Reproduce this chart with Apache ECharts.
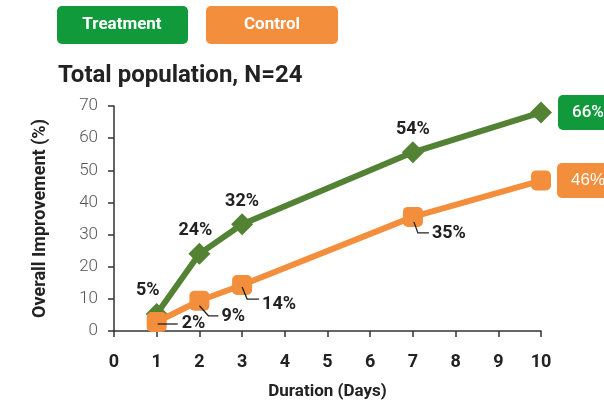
<!DOCTYPE html>
<html>
<head>
<meta charset="utf-8">
<script src="https://cdn.jsdelivr.net/npm/echarts@6/dist/echarts.min.js"></script>
<style>
  html, body { margin: 0; padding: 0; background: #fff; }
  #main { width: 604px; height: 403px; }
</style>
</head>
<body>
<div id="main"></div>
<script>
// data
var days = [1, 2, 3, 7, 10];
var treatment = [5.3, 24, 33.2, 55.6, 68];
var control = [2.8, 9.4, 14.3, 35.5, 46.8];
var treatmentLabels = ['5%', '24%', '32%', '54%', '66%'];
var controlLabels = ['2%', '9%', '14%', '35%', '46%'];

var green = '#548235';
var greenBox = '#109a3b';
var orange = '#f28e3c';
var font = 'Roboto';

// leader lines for control labels, offsets from the point
var leaderPts = [
    [[1, 2], [21, 2]],
    [[0, 5], [9, 15], [19, 15]],
    [[0, 2], [5, 14], [17, 14]],
    [[1, 5], [5, 16], [16, 16]]
];
var leaderText = [[25, 1], [22, 16], [20, 19], [19, 17]];

var chart = echarts.init(document.getElementById('main'));

var endLabel = function (bg) {
    return {
        position: 'right', distance: 6, color: '#fff', fontWeight: 500, fontSize: 17,
        backgroundColor: bg, borderRadius: 5, padding: [9, 14, 9, 14]
    };
};

var tData = days.map(function (d, i) {
    var item = { value: [d, treatment[i]] };
    if (i === 0) item.label = { offset: [-9, 0] };
    if (i === 1) item.label = { offset: [-4, 0] };
    if (i === days.length - 1) item.label = endLabel(greenBox);
    return item;
});

var cData = days.map(function (d, i) {
    var item = { value: [d, control[i]], label: { show: false } };
    if (i === days.length - 1) {
        item.label = endLabel(orange);
        item.label.show = true;
    }
    return item;
});

var leaderData = days.slice(0, 4).map(function (d, i) {
    return [d, control[i]];
});

option = {
    animation: false,
    title: {
        text: 'Total population, N=24',
        left: 53,
        top: 59,
        textStyle: { fontFamily: font, fontSize: 24, fontWeight: 'bold', color: '#222' }
    },
    graphic: [
        { type: 'rect', left: 57, top: 6, shape: { width: 131, height: 38, r: 5 }, style: { fill: greenBox } },
        { type: 'text', x: 122, y: 25, style: { text: 'Treatment', fill: '#fff', font: 'bold 17px ' + font, textAlign: 'center', textVerticalAlign: 'middle' } },
        { type: 'rect', left: 206, top: 6, shape: { width: 132, height: 38, r: 5 }, style: { fill: orange } },
        { type: 'text', x: 272, y: 25, style: { text: 'Control', fill: '#fff', font: 'bold 17px ' + font, textAlign: 'center', textVerticalAlign: 'middle' } }
    ],
    grid: { left: 114, right: 63, top: 106, bottom: 72, containLabel: false, outerBoundsMode: 'none' },
    xAxis: {
        type: 'value',
        min: 0, max: 10, interval: 1,
        name: 'Duration (Days)',
        nameLocation: 'middle',
        nameGap: 52,
        nameTextStyle: { fontFamily: font, fontSize: 17, fontWeight: 'bold', color: '#222' },
        axisLine: { lineStyle: { color: '#333', width: 1.5 } },
        axisTick: { show: true, length: 6, lineStyle: { color: '#333', width: 1.5 } },
        axisLabel: { margin: 22, fontFamily: font, fontSize: 18, fontWeight: 'bold', color: '#222' },
        splitLine: { show: false }
    },
    yAxis: {
        type: 'value',
        min: 0, max: 70, interval: 10,
        name: 'Overall Improvement (%)',
        nameLocation: 'middle',
        nameGap: 65,
        nameTextStyle: { fontFamily: font, fontSize: 18, fontWeight: 'bold', color: '#222' },
        axisLine: { show: true, lineStyle: { color: '#333', width: 1.5 } },
        axisTick: { show: true, length: 6, lineStyle: { color: '#333', width: 1.5 } },
        axisLabel: { margin: 16, fontFamily: font, fontSize: 17, fontWeight: 300, color: '#555' },
        splitLine: { show: false }
    },
    series: [
        {
            name: 'Control',
            type: 'line',
            data: cData,
            symbol: 'roundRect',
            symbolSize: 20,
            lineStyle: { color: orange, width: 6 },
            itemStyle: { color: orange },
            label: { show: false, formatter: function (p) { return controlLabels[p.dataIndex]; } },
            z: 3
        },
        {
            name: 'Treatment',
            type: 'line',
            data: tData,
            symbol: 'diamond',
            symbolSize: 22,
            lineStyle: { color: green, width: 6 },
            itemStyle: { color: green },
            label: {
                show: true,
                position: 'top',
                distance: 3,
                fontFamily: font, fontSize: 18, fontWeight: 'bold', color: '#222',
                formatter: function (p) { return treatmentLabels[p.dataIndex]; }
            },
            z: 2
        },
        {
            name: 'leaders',
            type: 'custom',
            data: leaderData,
            clip: false,
            z: 4,
            silent: true,
            renderItem: function (params, api) {
                var i = params.dataIndex;
                var p = api.coord([api.value(0), api.value(1)]);
                var pts = leaderPts[i].map(function (o) { return [p[0] + o[0], p[1] + o[1]]; });
                var t = leaderText[i];
                return {
                    type: 'group',
                    children: [
                        { type: 'polyline', shape: { points: pts }, style: { stroke: '#222', lineWidth: 1.3, fill: null } },
                        {
                            type: 'text', x: p[0] + t[0], y: p[1] + t[1],
                            style: {
                                text: controlLabels[i], fill: '#222', font: 'bold 18px ' + font,
                                textAlign: 'left', textVerticalAlign: 'middle'
                            }
                        }
                    ]
                };
            }
        }
    ]
};
chart.setOption(option);
</script>
</body>
</html>
